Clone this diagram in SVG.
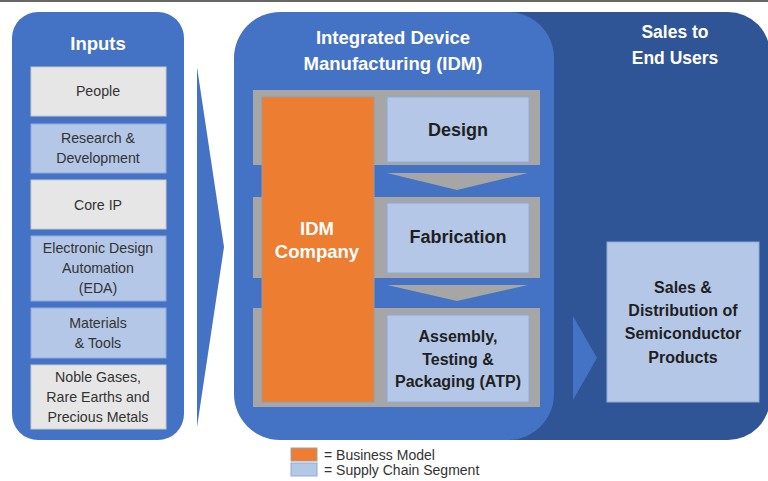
<svg xmlns="http://www.w3.org/2000/svg" width="768" height="481" viewBox="0 0 768 481">
<style>
text{font-family:"Liberation Sans",Arial,sans-serif;text-anchor:middle;dominant-baseline:central}
.ttl{fill:#fff;font-weight:bold;font-size:18.5px}
.ttl2{fill:#fff;font-weight:bold;font-size:17.5px}
.inp{fill:#333;font-size:14.2px}
.gray{fill:#E7E6E6;stroke:#c9c9c9;stroke-width:1}
.blue{fill:#B4C7E7;stroke:#8FAADC;stroke-width:1}
.seg{fill:#1f1f1f;font-weight:bold;font-size:18px}
.seg2{fill:#1f1f1f;font-weight:bold;font-size:16px}
.strip{fill:#A6A6A6}
.leg{fill:#333;font-size:14px;text-anchor:start}
</style>
<rect x="0" y="0" width="768" height="481" fill="#fff"/>
<rect x="0" y="0" width="768" height="2" fill="#666"/>

<g id="sales-panel">
<rect x="470" y="12" width="300" height="428" rx="42" fill="#2F5597"/>
<text class="ttl2" x="675" y="32">Sales to</text>
<text class="ttl2" x="675" y="58">End Users</text>
</g>

<g id="inputs">
<rect x="12" y="12" width="172" height="428" rx="26" fill="#4472C4"/>
<text class="ttl" x="98" y="43">Inputs</text>
<g id="people"><rect class="gray" x="31" y="67" width="135" height="49"/><text class="inp" x="98" y="91">People</text></g>
<g id="rnd"><rect class="blue" x="31" y="124" width="135" height="49"/><text class="inp" x="98" y="138">Research &amp;</text><text class="inp" x="98" y="158">Development</text></g>
<g id="coreip"><rect class="gray" x="31" y="180" width="135" height="49"/><text class="inp" x="98" y="205">Core IP</text></g>
<g id="eda"><rect class="blue" x="31" y="236" width="135" height="65"/><text class="inp" x="98" y="248">Electronic Design</text><text class="inp" x="98" y="268">Automation</text><text class="inp" x="98" y="288">(EDA)</text></g>
<g id="materials"><rect class="blue" x="31" y="308" width="135" height="50"/><text class="inp" x="98" y="323">Materials</text><text class="inp" x="98" y="343">&amp; Tools</text></g>
<g id="noble"><rect class="gray" x="31" y="365" width="135" height="64"/><text class="inp" x="98" y="377">Noble Gases,</text><text class="inp" x="98" y="397">Rare Earths and</text><text class="inp" x="98" y="417">Precious Metals</text></g>
</g>

<g id="idm">
<rect x="234" y="12" width="320" height="428" rx="46" fill="#4472C4"/>
<text class="ttl" x="393" y="37">Integrated Device</text>
<text class="ttl" x="393" y="63">Manufacturing (IDM)</text>
<rect class="strip" x="253" y="90" width="287" height="75"/>
<rect class="strip" x="253" y="197" width="287" height="81"/>
<rect class="strip" x="253" y="308" width="287" height="99"/>
<g id="design"><rect class="blue" x="387" y="97" width="142" height="65"/><text class="seg" x="458" y="130">Design</text></g>
<g id="fabrication"><rect class="blue" x="387" y="203" width="142" height="70"/><text class="seg" x="458" y="237">Fabrication</text></g>
<g id="atp"><rect class="blue" x="387" y="315" width="142" height="87"/><text class="seg2" x="458" y="336">Assembly,</text><text class="seg2" x="458" y="359">Testing &amp;</text><text class="seg2" x="458" y="381">Packaging (ATP)</text></g>
<g id="idm-company"><rect x="262" y="97" width="112" height="305" fill="#ED7D31" stroke="#9a9a9a" stroke-width="1"/><text class="ttl" x="317" y="228">IDM</text><text class="ttl" x="317" y="251">Company</text></g>
</g>

<g id="sales-box">
<rect class="blue" x="607" y="242" width="152" height="160"/>
<text class="seg2" x="683" y="287">Sales &amp;</text>
<text class="seg2" x="683" y="310">Distribution of</text>
<text class="seg2" x="683" y="333">Semiconductor</text>
<text class="seg2" x="683" y="357">Products</text>
</g>

<g id="connectors">
<polygon points="197,67 224,247 197,427" fill="#4472C4"/>
<polygon points="387,173 528,173 457,190" fill="#A6A6A6"/>
<polygon points="387,285 528,285 457,301" fill="#A6A6A6"/>
<polygon points="573,316 597,358 573,400" fill="#4472C4"/>
</g>

<g id="legend">
<rect x="291" y="448" width="26" height="13" fill="#ED7D31" stroke="#a0a0a0" stroke-width="1"/>
<rect x="291" y="463" width="26" height="13" fill="#B4C7E7" stroke="#8FAADC" stroke-width="1"/>
<text class="leg" x="324" y="454.5">= Business Model</text>
<text class="leg" x="324" y="470">= Supply Chain Segment</text>
</g>
</svg>
